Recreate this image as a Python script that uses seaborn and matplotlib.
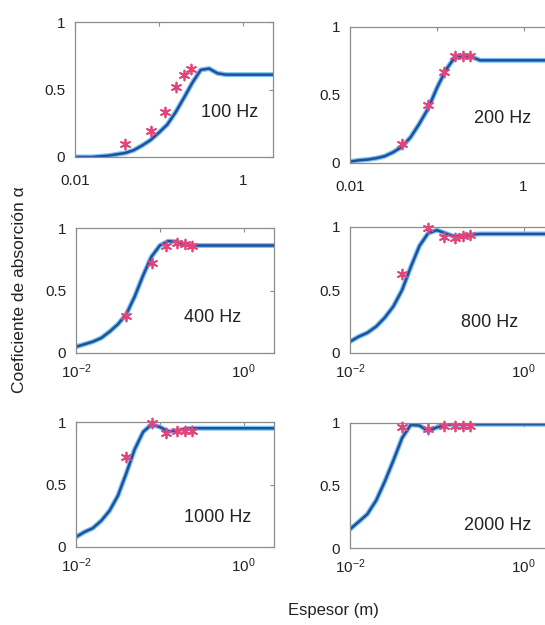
import numpy as np
import pandas as pd
import matplotlib
matplotlib.use("Agg")
import matplotlib.pyplot as plt
import seaborn as sns

# Thickness grid (m) for the model curves
espesor = [0.010, 0.0126, 0.0158, 0.020, 0.0251, 0.0316, 0.0398, 0.050, 0.0631,
           0.0794, 0.100, 0.126, 0.158, 0.200, 0.251, 0.316, 0.398, 0.501, 0.631,
           1.0, 2.5]

# Model absorption coefficient per frequency
modelo_100 = [0.0, 0.0, 0.0, 0.005, 0.01, 0.02, 0.03, 0.05, 0.085, 0.125, 0.18,
              0.24, 0.33, 0.44, 0.55, 0.645, 0.655, 0.62, 0.61, 0.61, 0.61]
modelo_200 = [0.01, 0.02, 0.025, 0.035, 0.05, 0.08, 0.12, 0.19, 0.29, 0.40, 0.55,
              0.68, 0.77, 0.79, 0.78, 0.755, 0.755, 0.755, 0.755, 0.755, 0.755]
modelo_400 = [0.05, 0.07, 0.09, 0.12, 0.17, 0.23, 0.31, 0.45, 0.62, 0.77, 0.86,
              0.895, 0.89, 0.87, 0.86, 0.86, 0.86, 0.86, 0.86, 0.86, 0.86]
modelo_800 = [0.09, 0.13, 0.16, 0.21, 0.28, 0.37, 0.50, 0.68, 0.85, 0.95, 0.975,
              0.95, 0.925, 0.93, 0.94, 0.945, 0.945, 0.945, 0.945, 0.945, 0.945]
modelo_1000 = [0.08, 0.12, 0.15, 0.21, 0.29, 0.41, 0.59, 0.78, 0.92, 0.98, 0.96,
               0.925, 0.93, 0.945, 0.95, 0.95, 0.95, 0.95, 0.95, 0.95, 0.95]
modelo_2000 = [0.15, 0.21, 0.27, 0.38, 0.53, 0.70, 0.88, 0.985, 0.98, 0.935, 0.965,
               0.985, 0.99, 0.99, 0.99, 0.99, 0.99, 0.99, 0.99, 0.99, 0.99]

# Measured samples
espesor_medido = [0.04, 0.08, 0.12, 0.16, 0.20, 0.24]
medido_100 = [0.10, 0.19, 0.33, 0.52, 0.61, 0.65]
medido_200 = [0.14, 0.43, 0.67, 0.79, 0.79, 0.79]
medido_400 = [0.30, 0.72, 0.86, 0.88, 0.87, 0.86]
medido_800 = [0.63, 0.99, 0.92, 0.91, 0.93, 0.94]
medido_1000 = [0.72, 0.99, 0.91, 0.93, 0.93, 0.93]
medido_2000 = [0.97, 0.95, 0.98, 0.98, 0.98, 0.98]

frecuencias = ["100 Hz", "200 Hz", "400 Hz", "800 Hz", "1000 Hz", "2000 Hz"]
modelos = [modelo_100, modelo_200, modelo_400, modelo_800, modelo_1000, modelo_2000]
medidos = [medido_100, medido_200, medido_400, medido_800, medido_1000, medido_2000]

sns.set_theme(style="white")
plt.rcParams["font.family"] = ["Liberation Sans", "DejaVu Sans"]
plt.rcParams["mathtext.fontset"] = "custom"
plt.rcParams["mathtext.rm"] = "Liberation Sans"
plt.rcParams["mathtext.it"] = "Liberation Sans"

W, H = 545, 625
fig = plt.figure(figsize=(W / 100, H / 100), dpi=100)

# panel boxes in pixels: left, top, width, height
cajas = [(75, 22, 198, 135), (350, 27, 205, 136),
         (76, 228, 198, 125), (350, 227, 205, 126),
         (76, 422, 198, 125), (350, 423, 205, 125)]
pos_texto = [(0.78, 0.33), (0.745, 0.33), (0.69, 0.28),
             (0.68, 0.24), (0.715, 0.24), (0.72, 0.18)]

azul_claro = "#7cc3ee"
azul = "#1f4f9e"
rosa = "#e2457c"
gris = "#8c8c8c"

for i, (caja, freq, mod, med) in enumerate(zip(cajas, frecuencias, modelos, medidos)):
    l, t, w, h = caja
    ax = fig.add_axes([l / W, 1 - (t + h) / H, w / W, h / H])
    df = pd.DataFrame({"espesor": espesor, "alfa": mod})
    dm = pd.DataFrame({"espesor": espesor_medido, "alfa": med})
    sns.lineplot(data=df, x="espesor", y="alfa", ax=ax, color=azul_claro, lw=3.6)
    sns.lineplot(data=df, x="espesor", y="alfa", ax=ax, color=azul, lw=1.8)
    sns.scatterplot(data=dm, x="espesor", y="alfa", ax=ax, marker=(6, 2, 0),
                    s=50, color=rosa, linewidth=1.3, zorder=5, clip_on=False)
    ax.set_xscale("log")
    ax.set_xlim(0.01, 2.3)
    ax.set_ylim(0, 1)
    ax.set_xticks([0.01, 0.1, 1])
    if i < 2:
        ax.set_xticklabels(["0.01", "", "1"])
        xpad = 12
    else:
        ax.set_xticklabels([r"$10^{-2}$", "", r"$10^{0}$"])
        xpad = 6.5
    ax.xaxis.set_minor_locator(matplotlib.ticker.NullLocator())
    ax.set_yticks([0, 0.5, 1])
    ax.set_yticklabels(["0", "0.5", "1"])
    ax.tick_params(axis="both", which="major", direction="in", length=3,
                   width=0.8, color=gris, labelsize=11,
                   top=True, right=True, labelcolor="#222222")
    ax.tick_params(axis="x", pad=xpad)
    ax.tick_params(axis="y", pad=7)
    ax.set_xlabel("")
    ax.set_ylabel("")
    for s in ax.spines.values():
        s.set_color(gris)
        s.set_linewidth(0.9)
    ax.text(pos_texto[i][0], pos_texto[i][1], freq, transform=ax.transAxes,
            ha="center", va="center", fontsize=13, color="#222222")

fig.text(20 / W, 1 - 290 / H, "Coeficiente de absorción α", rotation=90,
         ha="center", va="center", fontsize=12.5, color="#222222")
fig.text(333 / W, 1 - 610 / H, "Espesor (m)", ha="center", va="center",
         fontsize=12, color="#222222")

fig.savefig("out.png", dpi=100, facecolor="white")
